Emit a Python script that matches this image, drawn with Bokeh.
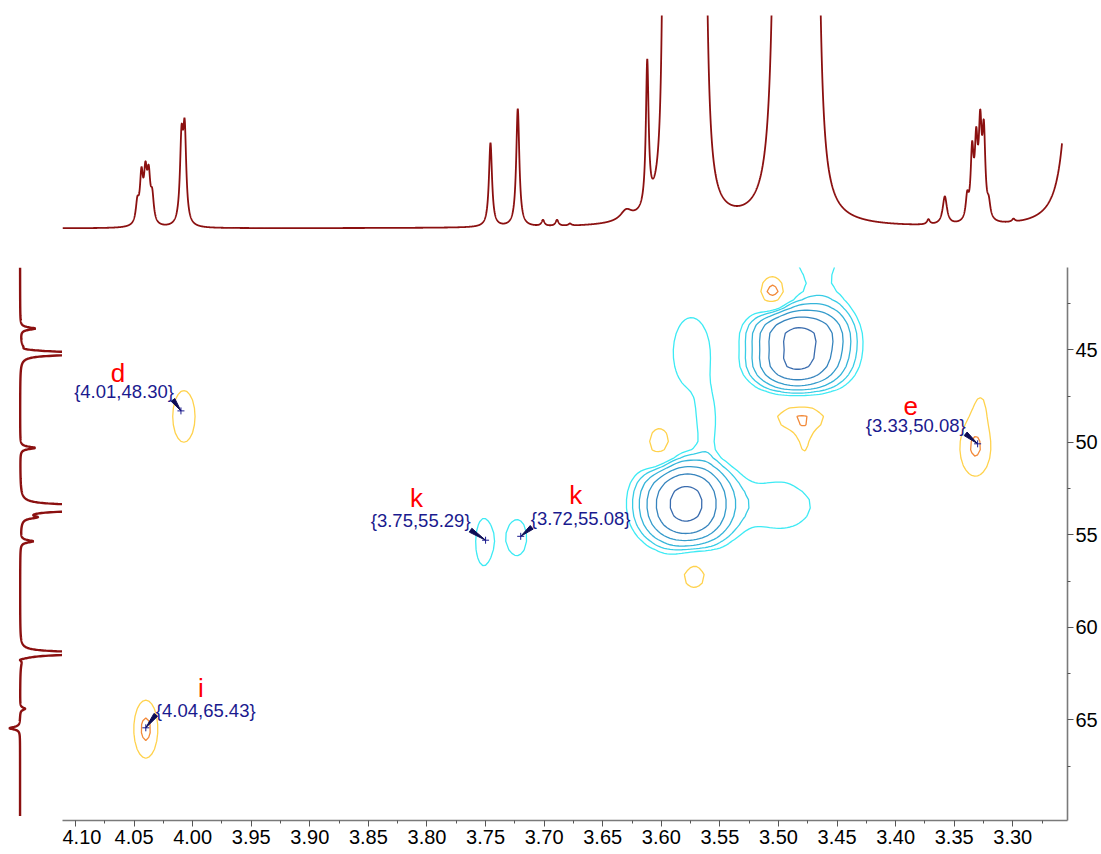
import numpy as np
from bokeh.plotting import figure
from bokeh.layouts import column, row
from bokeh.models import Range1d, FixedTicker, PrintfTickFormatter
from bokeh.core.properties import value
from bokeh.embed import file_html
from bokeh.resources import INLINE

# ---------------- 1H projection (top trace) ----------------
h1_ppm = [4.0472, 4.0437, 4.0403, 4.0375, 4.0345, 4.0095, 4.0068,
          3.7458, 3.7225, 3.7010, 3.6890, 3.6780, 3.6300, 3.6120,
          3.5975, 3.5910, 3.5820, 3.5730, 3.5645,
          3.4990, 3.4840, 3.4695, 3.3720, 3.3580,
          3.3389, 3.3347, 3.3312, 3.3278, 3.3247, 3.3205, 3.2994, 3.2450]
h1_height = [20, 46, 45, 43, 25, 80, 88,
             84, 118, 6, 6, 2, 10, 145,
             400, 1000, 1000, 1000, 875,
             2450, 2000, 1625, 5, 28,
             22, 65, 69, 85, 82, 14, 3, 1667]
h1_hwhm = [0.0016, 0.0016, 0.0016, 0.0016, 0.0016, 0.0016, 0.0016,
           0.0016, 0.0016, 0.0015, 0.0015, 0.0015, 0.0060, 0.0014,
           0.0015, 0.0020, 0.0020, 0.0020, 0.0020,
           0.0020, 0.0020, 0.0020, 0.0015, 0.0022,
           0.0015, 0.0015, 0.0015, 0.0015, 0.0015, 0.0016, 0.0015, 0.0030]

# ---------------- 13C projection (left trace) ----------------
c13_ppm = [43.85, 44.95, 45.20, 50.30, 53.45, 53.65, 54.05, 55.35, 61.40, 61.75, 64.40, 65.45]
c13_height = [0.35, -0.12, 2.5, 0.35, 2.5, 2.0, 0.30, 0.30, 2.5, -0.12, 0.12, -0.25]
c13_hwhm = [0.08] * 12

# ---------------- HSQC cross peaks (1H ppm, 13C ppm, signed amplitude, widths) ----------------
xpk_h = [3.486, 3.486, 3.476, 3.455, 3.468,
         3.579, 3.579, 3.579, 3.5745, 3.561, 3.497, 3.752, 3.723,
         4.0075, 3.332, 3.327, 4.040, 3.504, 3.481, 3.478, 3.601, 3.572]
xpk_c = [44.05, 45.85, 44.95, 44.0, 37.5,
         52.52, 54.12, 53.32, 45.15, 49.0, 53.4, 55.4, 55.15,
         48.6, 50.3, 47.6, 65.5, 42.0, 48.6, 50.5, 50.3, 57.1]
xpk_amp = [8.0, 8.0, 4.0, 1.5, 2.5,
           6.5, 6.5, 4.0, 1.5, 1.35, 1.55, 1.3, 1.3,
           -1.5, -1.68, -0.7, -1.75, -2.2, -1.65, -1.0, -1.75, -1.45]
xpk_wh = [0.021, 0.021, 0.025, 0.014, 0.018,
          0.0205, 0.0205, 0.026, 0.017, 0.0075, 0.026, 0.0088, 0.0112,
          0.0106, 0.0129, 0.008, 0.0097, 0.0098, 0.021, 0.006, 0.0105, 0.0115]
xpk_wc = [0.78, 0.78, 1.3, 1.3, 2.8,
          0.9, 0.9, 1.4, 2.1, 1.3, 1.3, 1.68, 1.35,
          1.55, 1.5, 1.0, 1.48, 0.85, 0.8, 0.9, 1.1, 0.9]

# ---------------- assigned correlations ----------------
ann_h = [4.01, 3.75, 3.72, 3.33, 4.04]
ann_c = [48.30, 55.29, 55.08, 50.08, 65.43]
ann_tag = ["d", "k", "k", "e", "i"]

x_ticks = [4.10, 4.05, 4.00, 3.95, 3.90, 3.85, 3.80, 3.75, 3.70,
           3.65, 3.60, 3.55, 3.50, 3.45, 3.40, 3.35, 3.30]
y_ticks = [45, 50, 55, 60, 65]

# ---------------- geometry / styling ----------------
X_LEFT, X_RIGHT = 4.1111, 3.2533
Y_TOP, Y_BOT = 40.55, 70.44
FW, FH = 1005, 553
KX = (X_LEFT - X_RIGHT) / FW
KY = (Y_BOT - Y_TOP) / FH

TRACE = "#8B1010"
NAVY = "#1a1a8e"
FONT = "Liberation Sans"

label_dx = [-7, -15, 10, -12, 10]
label_dy = [-19, -20, -18, -18, -17]
label_align = ["right", "right", "left", "right", "left"]
tag_dx = [-63, -69, 55, -67, 55]
tag_dy = [-38, -42, -41, -38, -40]
wedge_dx = [-8, -15, 11, -12, 10]
wedge_dy = [-11, -10, -9, -10, -13]

pos_levels = [1.0, 1.6, 2.56, 4.1, 6.55, 10.5]
pos_colors = ["#3DEAF4", "#38CDE6", "#35B4D9", "#349BCB", "#3684BD", "#3A6CAE"]
neg_levels = [-1.6, -1.0]
neg_colors = ["#F28A3A", "#FFD24D"]


def lorentz_sum(axis, centres, heights, hwhm):
    out = np.zeros_like(axis)
    for c, h, w in zip(centres, heights, hwhm):
        out += h * w ** 2 / ((axis - c) ** 2 + w ** 2)
    return out


# ---------------- main HSQC panel ----------------
p = figure(x_range=Range1d(X_LEFT, X_RIGHT), y_range=Range1d(Y_BOT, Y_TOP),
           frame_width=FW, frame_height=FH, y_axis_location="right",
           min_border_left=0, min_border_right=34, min_border_top=22, min_border_bottom=32,
           toolbar_location=None, output_backend="svg", outline_line_color=None,
           background_fill_color="white", border_fill_color="white")
p.grid.visible = False

gx = np.arange(3.24, 4.125, 0.0025)
gy = np.arange(36.0, 71.5, 0.45)
GX, GY = np.meshgrid(gx, gy)
Z = np.zeros_like(GX)
for h, c, a, wh, wc in zip(xpk_h, xpk_c, xpk_amp, xpk_wh, xpk_wc):
    Z += a * np.exp(-0.5 * ((GX - h) / wh) ** 2 - 0.5 * ((GY - c) / wc) ** 2)

p.contour(x=gx, y=gy, z=Z, levels=pos_levels, line_color=pos_colors, line_width=1.3)
p.contour(x=gx, y=gy, z=Z, levels=neg_levels, line_color=neg_colors, line_width=1.3)

for i, (h, c, tag) in enumerate(zip(ann_h, ann_c, ann_tag)):
    # pointer wedge: apex on the peak, base at the label
    bx, by = wedge_dx[i], wedge_dy[i]
    ln = np.hypot(bx, by)
    nx, ny = -by / ln * 2.3, bx / ln * 2.3
    px_pts = [(0, 0), (bx + nx, by + ny), (bx - nx, by - ny)]
    p.patch([h - q[0] * KX for q in px_pts], [c + q[1] * KY for q in px_pts],
            fill_color="#0c0c55", line_color="#0c0c55", line_width=1)
    p.scatter([h], [c], marker="cross", size=7, line_color=NAVY, line_width=1)
    p.text(x=[h - label_dx[i] * KX], y=[c + label_dy[i] * KY],
           text=["{%.2f,%.2f}" % (h, c)], text_align=label_align[i], text_baseline="middle",
           text_font=value(FONT), text_font_size=value("18.5px"), text_color=NAVY)
    p.text(x=[h - tag_dx[i] * KX], y=[c + tag_dy[i] * KY], text=[tag],
           text_align="center", text_baseline="alphabetic",
           text_font=value(FONT), text_font_size=value("26px"), text_color="#ff0000")

x_minor = [(a + b) / 2 for a, b in zip(x_ticks[:-1], x_ticks[1:])] + [x_ticks[-1] - 0.025]
y_minor = [t - 2.5 for t in y_ticks] + [y_ticks[-1] + 2.5]

xa = p.xaxis[0]
xa.ticker = FixedTicker(ticks=x_ticks, minor_ticks=x_minor)
xa.formatter = PrintfTickFormatter(format="%.2f")
ya = p.yaxis[0]
ya.ticker = FixedTicker(ticks=y_ticks, minor_ticks=y_minor)
ya.formatter = PrintfTickFormatter(format="%d")
for ax in (xa, ya):
    ax.axis_line_color = "#7a7a7a"
    ax.axis_line_width = 1.6
    ax.major_tick_line_color = "#555555"
    ax.minor_tick_line_color = "#555555"
    ax.major_tick_in = 0
    ax.major_tick_out = 6
    ax.minor_tick_in = 0
    ax.minor_tick_out = 3
    ax.major_label_text_font = FONT
    ax.major_label_text_font_size = "20px"
    ax.major_label_text_color = "black"
xa.major_label_standoff = 3
ya.major_label_standoff = 2

# ---------------- 1H trace on top ----------------
top = figure(x_range=p.x_range, y_range=Range1d(-17, 213),
             frame_width=FW, frame_height=230,
             min_border_left=62, min_border_right=34, min_border_top=15, min_border_bottom=0,
             x_axis_type=None, y_axis_type=None, toolbar_location=None,
             output_backend="svg", outline_line_color=None)
h_axis = np.arange(3.258, X_LEFT, 0.0001)
top.line(h_axis, lorentz_sum(h_axis, h1_ppm, h1_height, h1_hwhm), line_color=TRACE, line_width=1.8)

# ---------------- 13C trace on the left ----------------
left = figure(x_range=Range1d(-0.46, 1.0), y_range=p.y_range,
              frame_width=62, frame_height=FH,
              min_border_left=0, min_border_right=0, min_border_top=22, min_border_bottom=32,
              x_axis_type=None, y_axis_type=None, toolbar_location=None,
              output_backend="svg", outline_line_color=None)
c_axis = np.arange(Y_TOP, 70.2, 0.01)
left.line(lorentz_sum(c_axis, c13_ppm, c13_height, c13_hwhm), c_axis, line_color=TRACE, line_width=2.4)

layout = column(top, row(left, p))
open("out.html", "w").write(file_html(layout, INLINE))
